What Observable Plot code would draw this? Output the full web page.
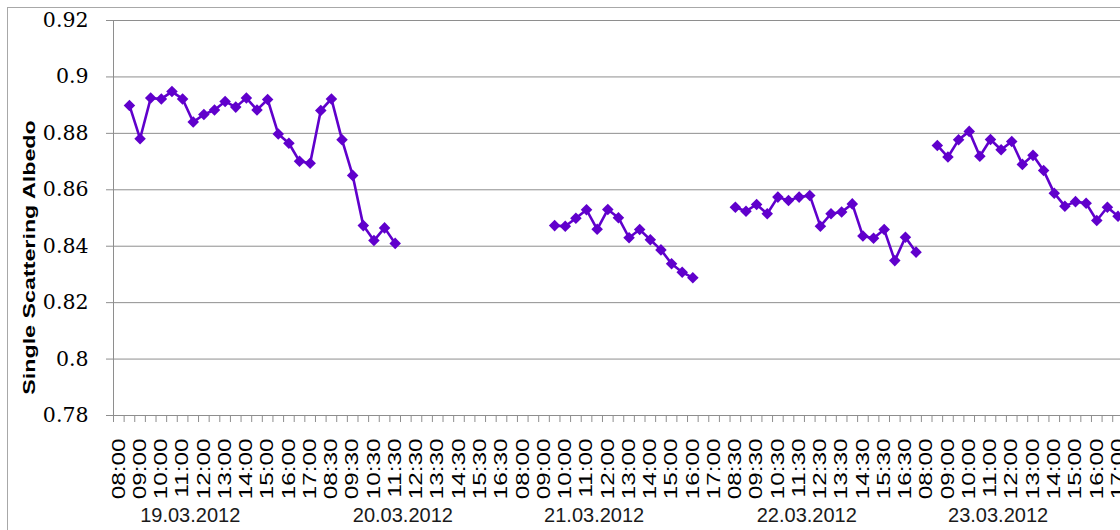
<!DOCTYPE html>
<html>
<head>
<meta charset="utf-8">
<script src="https://cdn.jsdelivr.net/npm/d3@7"></script>
<script src="https://cdn.jsdelivr.net/npm/@observablehq/plot@0.6"></script>
<style>
html, body { margin: 0; padding: 0; background: #fff; overflow: hidden; }
#wrap { position: relative; width: 1120px; height: 530px; overflow: hidden; background: #fff; }
#wrap svg { display: block; overflow: hidden; }
#frame { position: absolute; left: 7px; top: 7px; width: 1200px; height: 600px;
  border-left: 1px solid #a8a8a8; border-top: 1px solid #a8a8a8; pointer-events: none; }
</style>
</head>
<body>
<div id="wrap"><div id="frame"></div></div>
<script>
// ---- data ----
const days = ["19.03.2012", "20.03.2012", "21.03.2012", "22.03.2012", "23.03.2012"];
const timesLong = ["08:00","08:30","09:00","09:30","10:00","10:30","11:00","11:30","12:00","12:30",
                   "13:00","13:30","14:00","14:30","15:00","15:30","16:00","16:30","17:00","17:30"];
const timesShort = ["08:30","09:00","09:30","10:00","10:30","11:00","11:30","12:00","12:30",
                    "13:00","13:30","14:00","14:30","15:00","15:30","16:00","16:30","17:00"];
const dayTimes = [timesLong, timesShort, timesLong, timesShort, timesLong];

const values19 = [null, 0.8899, 0.8781, 0.8925, 0.8922, 0.8948, 0.8922, 0.8840, 0.8867, 0.8883,
                  0.8913, 0.8893, 0.8925, 0.8883, 0.8920, 0.8798, 0.8765, 0.8701, 0.8694, 0.8881];
const values20 = [0.8922, 0.8777, 0.8651, 0.8473, 0.8420, 0.8465, 0.8410,
                  null, null, null, null, null, null, null, null, null, null, null];
const values21 = [null, null, null, 0.8473, 0.8471, 0.8499, 0.8529, 0.8460, 0.8530, 0.8501,
                  0.8430, 0.8459, 0.8423, 0.8387, 0.8338, 0.8308, 0.8288, null, null, null];
const values22 = [0.8538, 0.8524, 0.8548, 0.8515, 0.8574, 0.8562, 0.8574, 0.8580, 0.8471,
                  0.8515, 0.8521, 0.8550, 0.8436, 0.8428, 0.8459, 0.8349, 0.8432, 0.8379];
const values23 = [null, 0.8757, 0.8716, 0.8777, 0.8807, 0.8719, 0.8778, 0.8742, 0.8771, 0.8690,
                  0.8722, 0.8668, 0.8588, 0.8542, 0.8558, 0.8552, 0.8491, 0.8538, 0.8506, null];
const dayValues = [values19, values20, values21, values22, values23];

const yTicks = [0.78, 0.80, 0.82, 0.84, 0.86, 0.88, 0.90, 0.92];
const yTickLabels = ["0.78", "0.8", "0.82", "0.84", "0.86", "0.88", "0.9", "0.92"];
const yTitle = "Single Scattering Albedo";

// ---- table ----
const rows = [];
days.forEach((day, di) => {
  dayTimes[di].forEach((t, ti) => {
    rows.push({key: day + " " + t, day, time: t, v: dayValues[di][ti]});
  });
});
const keys = rows.map(r => r.key);
const timeLabelRows = rows.filter((r, i) => i % 2 === 0);
const dateRows = days.map((day, di) => ({key: day + " " + dayTimes[di][7], day}));

// ---- layout ----
const step = 10.63;
const left = 113;
const purple = "#6000cc";
const gray = "#8e8e8e";

const chart = Plot.plot({
  width: 1120,
  height: 530,
  marginLeft: left,
  marginRight: 0,
  marginTop: 20,
  marginBottom: 115,
  style: {fontFamily: "DejaVu Serif", background: "#fff", overflow: "hidden"},
  x: {type: "point", domain: keys, range: [left, left + keys.length * step], padding: 0.5, axis: null},
  y: {domain: [0.78, 0.92]},
  marks: [
    Plot.gridY(yTicks, {stroke: gray, strokeOpacity: 1, strokeWidth: 1}),
    Plot.ruleX([keys[0]], {x: d => d, dx: -step / 2, stroke: gray, strokeWidth: 1}),
    Plot.ruleX(keys, {x: d => d, y1: () => 0.78, y2: () => 0.78, insetBottom: -7, dx: -step / 2, stroke: gray, strokeWidth: 1}),
    Plot.axisY(yTicks, {
      tickSize: 7, tickPadding: 18, stroke: gray, fill: "#000", fontSize: 20.5,
      fontFamily: "DejaVu Serif", label: null,
      tickFormat: d => yTickLabels[yTicks.indexOf(d)]
    }),
    Plot.line(rows, {x: "key", y: "v", stroke: purple, strokeWidth: 2.6}),
    Plot.dot(rows, {x: "key", y: "v", symbol: "diamond2", r: 5.2, fill: purple, stroke: "none"}),
    Plot.text(timeLabelRows, {
      x: "key", text: "time", frameAnchor: "bottom", dy: 23, rotate: -90,
      textAnchor: "end", lineAnchor: "middle", fontSize: 18, fill: "#000",
      fontFamily: "Liberation Sans"
    }),
    Plot.text(dateRows, {
      x: "key", text: "day", frameAnchor: "bottom", dy: 100, dx: -3,
      textAnchor: "middle", lineAnchor: "middle", fontSize: 20, fill: "#1a1a1a",
      fontFamily: "Liberation Sans"
    }),
    Plot.text([yTitle], {
      text: d => d, frameAnchor: "left", dx: -84, dy: 39.5, rotate: -90,
      textAnchor: "middle", lineAnchor: "middle", fontSize: 17, fontWeight: "bold",
      fill: "#000", fontFamily: "Liberation Sans"
    })
  ]
});

// stretch rotated texts along their reading direction, as in the reference
d3.select(chart).selectAll("text").each(function() {
  const txt = this.textContent;
  const t = this.getAttribute("transform") || "";
  if (!/rotate/.test(t)) return;
  let sx = null;
  if (/^\d\d:\d\d$/.test(txt)) sx = 1.35;
  else if (txt === yTitle) sx = 1.37;
  if (sx) this.setAttribute("transform", t + ` scale(${sx},1)`);
});

document.getElementById("wrap").prepend(chart);
</script>
</body>
</html>
